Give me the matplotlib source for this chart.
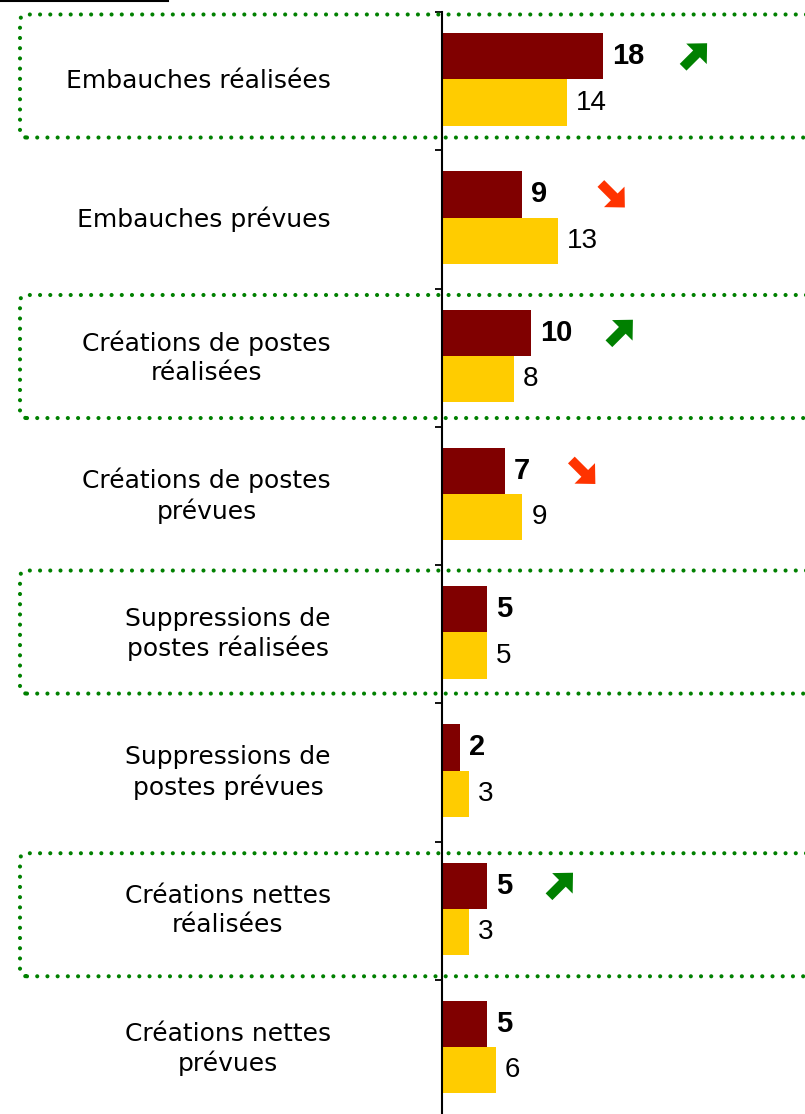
import numpy as np
import matplotlib
matplotlib.use("Agg")
import matplotlib.pyplot as plt
from matplotlib.patches import FancyBboxPatch, FancyArrow
from matplotlib.lines import Line2D
from matplotlib.transforms import IdentityTransform

# categories, top to bottom
CATEGORIES = [
    "Embauches réalisées",
    "Embauches prévues",
    "Créations de postes\nréalisées",
    "Créations de postes\nprévues",
    "Suppressions de\npostes réalisées",
    "Suppressions de\npostes prévues",
    "Créations nettes\nréalisées",
    "Créations nettes\nprévues",
]
VALUES_RECENT = [18, 9, 10, 7, 5, 2, 5, 5]   # dark red, bold labels
VALUES_PRIOR = [14, 13, 8, 9, 5, 3, 3, 6]    # yellow
TREND = ["up", "down", "up", "down", None, None, "up", None]
TREND_X = [28.2, 19.0, 19.9, 15.7, None, None, 13.2, None]  # arrow centre, in value units
BOXED = [True, False, True, False, True, False, True, False]
# the hand-drawn boxes are not all placed the same way in their row
BOX_SHIFT = [-0.022, 0, 0.007, 0, 0.0, 0, 0.045, 0]

DARK = "#800000"
YELLOW = "#FFCC00"
GREEN = "#008000"
ORANGE = "#FF3300"

W, H = 805, 1114
fig = plt.figure(figsize=(W / 100, H / 100), dpi=100)
ax = fig.add_axes([442 / W, -4 / H, 1 - 442 / W, 1106 / H])

y = np.arange(len(CATEGORIES))
ax.barh(y - 0.18, VALUES_RECENT, height=0.335, color=DARK, zorder=2)
ax.barh(y + 0.155, VALUES_PRIOR, height=0.335, color=YELLOW, zorder=2)

ax.set_xlim(0, (W - 442) / 8.94)
ax.set_ylim(len(CATEGORIES) - 0.5, -0.5)

for yi, v in zip(y, VALUES_RECENT):
    ax.annotate(str(v), (v, yi - 0.18), xytext=(6.5, 0), textcoords="offset points",
                ha="left", va="center", fontsize=21, fontweight="bold",
                family="Liberation Sans", color="black")
for yi, v in zip(y, VALUES_PRIOR):
    ax.annotate(str(v), (v, yi + 0.155), xytext=(6.5, 0), textcoords="offset points",
                ha="left", va="center", fontsize=20, family="Liberation Sans",
                color="black")

# axis styling
for side in ["top", "right", "bottom"]:
    ax.spines[side].set_visible(False)
ax.spines["left"].set_linewidth(1.5)
ax.xaxis.set_visible(False)
ax.set_yticks(y)
ax.set_yticklabels(CATEGORIES, fontsize=18, family="DejaVu Sans")
for lbl in ax.get_yticklabels():
    lbl.set_multialignment("center")
    lbl.set_linespacing(1.25)
    lbl.set_verticalalignment("center")
ax.tick_params(axis="y", which="major", length=0, pad=80)
ax.set_yticks(np.arange(len(CATEGORIES) + 1) - 0.5, minor=True)
ax.tick_params(axis="y", which="minor", length=5, width=1.3, color="black")

# dotted highlight boxes around the "réalisées" rows
fig.canvas.draw()
for yi, boxed, shift in zip(y, BOXED, BOX_SHIFT):
    if not boxed:
        continue
    _, y_bot = ax.transData.transform((0, yi + shift + 0.43))
    _, y_top = ax.transData.transform((0, yi + shift - 0.46))
    box = FancyBboxPatch((20, y_bot), 900, y_top - y_bot,
                         boxstyle="round,pad=0,rounding_size=7",
                         transform=IdentityTransform(), fill=False,
                         edgecolor=GREEN, linewidth=3.0,
                         linestyle=(0, (0.001, 2.45)), capstyle="round", zorder=5)
    fig.add_artist(box)

# trend arrows next to the recent values
for yi, trend, tx in zip(y, TREND, TREND_X):
    if trend is None:
        continue
    cx, cy = ax.transData.transform((tx, yi - 0.18))
    sgn = 1 if trend == "up" else -1
    arrow = FancyArrow(cx - 11, cy - 11 * sgn, 24, 24 * sgn, width=9.5,
                       head_width=29, head_length=15, length_includes_head=True,
                       transform=IdentityTransform(), linewidth=0,
                       color=GREEN if trend == "up" else ORANGE, zorder=6)
    fig.add_artist(arrow)

fig.add_artist(Line2D([0, 168 / W], [1 - 1 / H, 1 - 1 / H], color="black", lw=1.5,
                      transform=fig.transFigure))

fig.savefig("out.png", dpi=100)
